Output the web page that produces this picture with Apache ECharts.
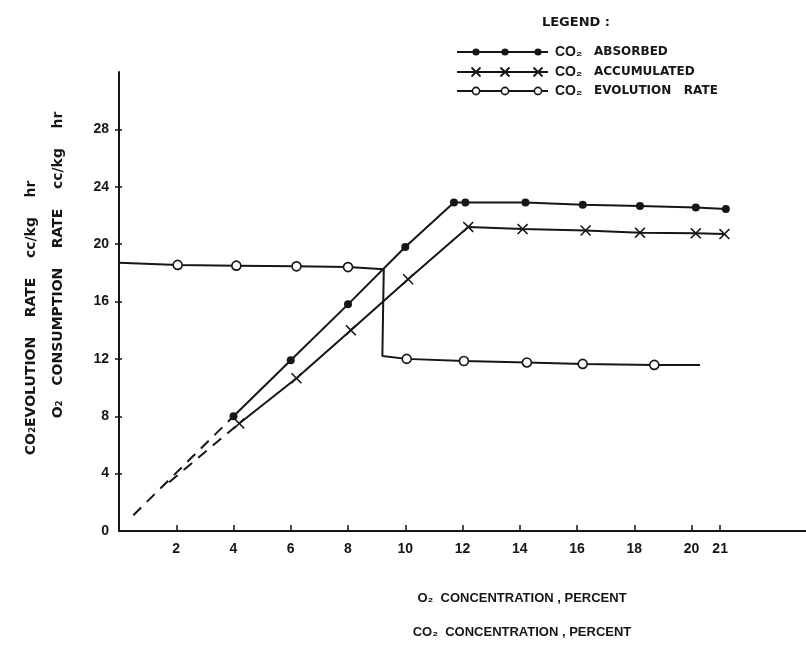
<!DOCTYPE html>
<html><head><meta charset="utf-8">
<script src="https://cdn.jsdelivr.net/npm/echarts@6/dist/echarts.min.js"></script>
<style>html,body{margin:0;padding:0;background:#fff}#c{width:806px;height:663px}</style>
</head><body><div id="c"></div>
<script>
// ---- data ----
const xTicks = [2, 4, 6, 8, 10, 12, 14, 16, 18, 20, 21];
const yTicks = [0, 4, 8, 12, 16, 20, 24, 28];

const absX = [4, 6, 8, 10, 11.7, 12.1, 14.2, 16.2, 18.2, 20.15, 21.2];
const absY = [8, 11.9, 15.8, 19.8, 22.9, 22.9, 22.9, 22.75, 22.65, 22.55, 22.45];
const absExtX = [0.5, 4];
const absExtY = [1.1, 8];

const accX = [4.2, 6.2, 8.1, 10.1, 12.2, 14.1, 16.3, 18.2, 20.15, 21.15];
const accY = [7.5, 10.65, 14.0, 17.55, 21.2, 21.05, 20.95, 20.8, 20.75, 20.7];
const accExtX = [1.75, 4.2];
const accExtY = [3.4, 7.5];

const evoX = [0, 2.05, 4.1, 6.2, 8, 9.25, 9.2, 10.05, 12.05, 14.25, 16.2, 18.7, 20.3];
const evoY = [18.7, 18.55, 18.5, 18.45, 18.4, 18.25, 12.2, 12.0, 11.85, 11.75, 11.65, 11.58, 11.58];
const evoMark = [0, 1, 1, 1, 1, 0, 0, 1, 1, 1, 1, 1, 0];

const legendNames = ['ABSORBED', 'ACCUMULATED', 'EVOLUTION   RATE'];

// ---- styling ----
const INK = '#161616';
const FONT = '"Liberation Sans", Arial, sans-serif';
const WIDE = '"DejaVu Sans", Verdana, sans-serif';
const X_PATH = 'path://M0,1L1,0L5,4L9,0L10,1L6,5L10,9L9,10L5,6L1,10L0,9L4,5Z';

const zip = (xs, ys) => xs.map((x, i) => [x, ys[i]]);

const chart = echarts.init(document.getElementById('c'), null, {renderer: 'canvas'});

const legendRows = [52, 72, 91];
const legendGraphics = [];
legendRows.forEach((y, r) => {
  legendGraphics.push({type: 'line', shape: {x1: 457, y1: y, x2: 548, y2: y},
    style: {stroke: INK, lineWidth: 2}});
  [476, 505, 538].forEach(cx => {
    if (r === 0) {
      legendGraphics.push({type: 'circle', shape: {cx, cy: y, r: 3.6}, style: {fill: INK}});
    } else if (r === 1) {
      legendGraphics.push({type: 'line', shape: {x1: cx - 4.5, y1: y - 4.5, x2: cx + 4.5, y2: y + 4.5}, style: {stroke: INK, lineWidth: 1.8}});
      legendGraphics.push({type: 'line', shape: {x1: cx + 4.5, y1: y - 4.5, x2: cx - 4.5, y2: y + 4.5}, style: {stroke: INK, lineWidth: 1.8}});
    } else {
      legendGraphics.push({type: 'circle', shape: {cx, cy: y, r: 3.6}, style: {fill: '#fff', stroke: INK, lineWidth: 1.6}});
    }
  });
  legendGraphics.push({type: 'text', x: 555, y: y, style: {text: 'CO₂', font: 'bold 14px ' + FONT, fill: INK, textVerticalAlign: 'middle'}});
  legendGraphics.push({type: 'text', x: 594, y: y, style: {text: legendNames[r], font: 'bold 12px ' + WIDE, fill: INK, textVerticalAlign: 'middle'}});
});

chart.setOption({
  backgroundColor: '#fff',
  animation: false,
  grid: {left: 119, right: 0, top: 72, bottom: 132, containLabel: false},
  xAxis: {
    type: 'value', min: 0, max: 24,
    axisLine: {lineStyle: {color: INK, width: 2}},
    axisTick: {show: true, inside: true, length: 6, customValues: xTicks, lineStyle: {color: INK, width: 1.5}},
    axisLabel: {customValues: xTicks, color: INK, fontWeight: 'bold', fontSize: 14, fontFamily: FONT, margin: 11},
    splitLine: {show: false}
  },
  yAxis: [{
    type: 'value', min: 0, max: 32, interval: 4,
    axisLine: {show: true, lineStyle: {color: INK, width: 2}},
    axisTick: {show: true, length: 4, customValues: yTicks.slice(1), lineStyle: {color: INK, width: 1.5}},
    axisLabel: {customValues: yTicks, color: INK, fontWeight: 'bold', fontSize: 14, fontFamily: FONT, margin: 10},
    splitLine: {show: false}
  }, {
    type: 'value', min: 0, max: 32, interval: 4, position: 'left',
    axisLine: {show: false},
    axisTick: {show: true, inside: true, length: 3, customValues: yTicks.slice(1), lineStyle: {color: INK, width: 1.5}},
    axisLabel: {show: false},
    splitLine: {show: false}
  }],
  series: [
    {
      name: 'CO2 ABSORBED', type: 'line', data: zip(absX, absY),
      symbol: 'circle', symbolSize: 8, itemStyle: {color: INK},
      lineStyle: {color: INK, width: 2}
    },
    {
      name: 'CO2 ABSORBED ext', type: 'line', data: zip(absExtX, absExtY),
      symbol: 'none', lineStyle: {color: INK, width: 2, type: [11, 8]}
    },
    {
      name: 'CO2 ACCUMULATED', type: 'line', data: zip(accX, accY),
      symbol: X_PATH, symbolSize: 11, itemStyle: {color: INK},
      lineStyle: {color: INK, width: 2}
    },
    {
      name: 'CO2 ACCUMULATED ext', type: 'line', data: zip(accExtX, accExtY),
      symbol: 'none', lineStyle: {color: INK, width: 2, type: [11, 8]}
    },
    {
      name: 'CO2 EVOLUTION RATE', type: 'line',
      data: evoX.map((x, i) => ({value: [x, evoY[i]], symbol: evoMark[i] ? 'circle' : 'none'})),
      symbolSize: 9, showAllSymbol: true,
      itemStyle: {color: '#fff', borderColor: INK, borderWidth: 1.6},
      lineStyle: {color: INK, width: 2}
    }
  ],
  graphic: [
    {type: 'text', x: 576, y: 23, style: {text: 'LEGEND :', font: 'bold 13px ' + WIDE, fill: INK, textAlign: 'center', textVerticalAlign: 'middle'}},
    ...legendGraphics,
    {type: 'text', x: 31, y: 318, rotation: Math.PI / 2,
      style: {text: 'CO₂EVOLUTION    RATE    cc/kg    hr', font: 'bold 14px ' + WIDE, fill: INK, textAlign: 'center', textVerticalAlign: 'middle'}},
    {type: 'text', x: 58, y: 265, rotation: Math.PI / 2,
      style: {text: 'O₂   CONSUMPTION    RATE    cc/kg    hr', font: 'bold 14px ' + WIDE, fill: INK, textAlign: 'center', textVerticalAlign: 'middle'}},
    {type: 'text', x: 522, y: 598,
      style: {text: 'O₂  CONCENTRATION , PERCENT', font: 'bold 13px ' + FONT, fill: INK, textAlign: 'center', textVerticalAlign: 'middle'}},
    {type: 'text', x: 522, y: 632,
      style: {text: 'CO₂  CONCENTRATION , PERCENT', font: 'bold 13px ' + FONT, fill: INK, textAlign: 'center', textVerticalAlign: 'middle'}}
  ]
});
</script>
</body></html>
